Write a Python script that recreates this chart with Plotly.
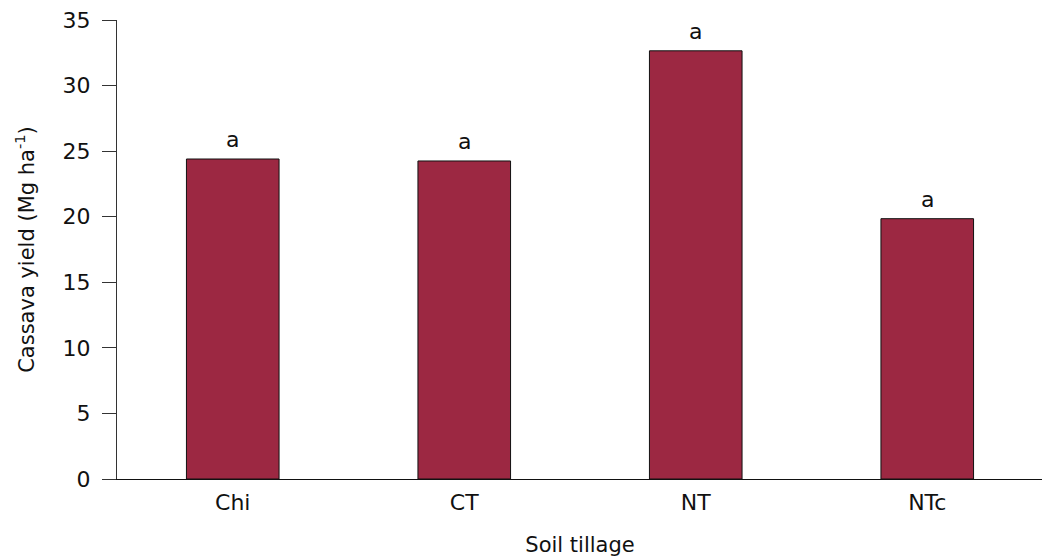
import plotly.graph_objects as go

categories = ["Chi", "CT", "NT", "NTc"]
yield_values = [24.4, 24.25, 32.65, 19.85]
letters = ["a", "a", "a", "a"]
y_ticks = [0, 5, 10, 15, 20, 25, 30, 35]

FONT = "DejaVu Sans"
fig = go.Figure()
fig.add_trace(go.Bar(
    x=categories, y=yield_values, width=0.4,
    marker=dict(color="#9C2842", line=dict(color="#111111", width=1)),
))
for c, v, t in zip(categories, yield_values, letters):
    fig.add_annotation(x=c, y=v, text=t, showarrow=False, yanchor="bottom",
                       yshift=5, font=dict(family=FONT, size=22, color="#111111"))
fig.update_layout(
    width=1050, height=560,
    margin=dict(l=109, r=15, t=12, b=89),
    plot_bgcolor="white", paper_bgcolor="white",
    font=dict(family=FONT, size=22, color="#111111"),
    showlegend=False,
)
fig.update_yaxes(
    range=[0, 35], tickvals=y_ticks, ticks="outside", ticklen=14,
    tickcolor="#333333", tickwidth=1, showline=True, linecolor="#333333",
    linewidth=1, showgrid=False, zeroline=False, automargin=False,
    ticklabelstandoff=7, tickfont=dict(size=22), ticklabeloverflow="allow",
    title=dict(text="Cassava yield (Mg ha<sup>-1</sup>)", standoff=22,
               font=dict(size=21)),
)
fig.update_xaxes(
    showline=True, linecolor="#111111", linewidth=1, ticks="",
    showgrid=False, ticklabelstandoff=4, automargin=False,
    tickfont=dict(size=22), ticklabeloverflow="allow",
    title=dict(text="Soil tillage", standoff=22, font=dict(size=21)),
)
fig.write_html("out.html")
